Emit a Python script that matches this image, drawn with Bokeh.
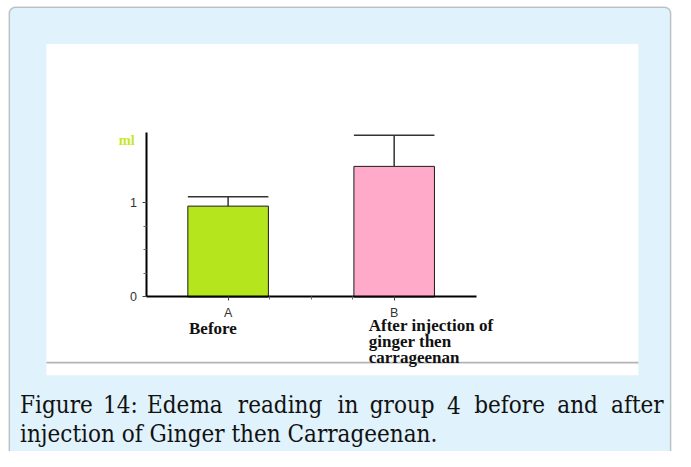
from bokeh.plotting import figure
from bokeh.models import Label, BoxAnnotation, FixedTicker, Range1d, LinearAxis
from bokeh.embed import file_html
from bokeh.resources import INLINE

# ---- data ----
categories = ["A", "B"]
cat_pos = [1, 5]
group_labels = [["Before"], ["After injection of", "ginger then", "carrageenan"]]
means = [0.96, 1.38]
errors = [0.10, 0.33]
bar_colors = ["#b5e61d", "#ffaac9"]
y_major = [0, 1]
y_minor = [0.25, 0.5, 0.75]
x_minor = [2, 3, 4]
y_unit = "ml"
caption_line1 = ["Figure", "14:", "Edema", "reading", "in", "group", "4", "before", "and", "after"]
caption_line2 = "injection of Ginger then Carrageenan."

BAR_W = 1.94
CAP_FONT = "DejaVu Serif Condensed"

# reference-pixel -> data helpers (for decorative placement only)
def X(px):
    return 1 + (px - 233) / 42.5

def Y(py):
    return (307 - py) / 98

REF_W, REF_H = 691, 467
W, H = 675, 451
p = figure(width=W, height=H, output_backend="svg", toolbar_location=None,
           x_range=Range1d(X(0), X(REF_W)), y_range=Range1d(Y(REF_H), Y(0)),
           x_axis_type=None, y_axis_type=None,
           min_border_left=0, min_border_right=0, min_border_top=0, min_border_bottom=0)
p.border_fill_color = "white"
p.background_fill_color = "white"
p.outline_line_color = None
p.grid.visible = False

# outer panel
p.add_layout(BoxAnnotation(left=X(9), right=X(686), top=Y(7), bottom=Y(540),
                           fill_color="#e0f2fb", fill_alpha=1.0,
                           line_color="#4a4a4a", line_width=1.5, border_radius=6,
                           level="underlay"))
# inner white area
p.add_layout(BoxAnnotation(left=X(47), right=X(653), top=Y(45), bottom=Y(388),
                           fill_color="white", fill_alpha=1.0, line_color=None,
                           level="underlay"))
# grey rule
p.add_layout(BoxAnnotation(left=X(47), right=X(653), top=Y(374), bottom=Y(376),
                           fill_color="#b4b4b4", fill_alpha=1.0, line_color=None,
                           level="underlay"))

# bars
p.vbar(x=cat_pos, top=means, bottom=0, width=BAR_W, fill_color=bar_colors,
       line_color="#1a1a1a", line_width=1)

# error bars (upper only)
tops = [m + e for m, e in zip(means, errors)]
p.segment(x0=cat_pos, y0=means, x1=cat_pos, y1=tops, line_color="#333333", line_width=1.5)
p.segment(x0=[c - BAR_W / 2 for c in cat_pos], y0=tops,
          x1=[c + BAR_W / 2 for c in cat_pos], y1=tops,
          line_color="#333333", line_width=1.5)

# axes placed at fixed locations inside the frame
xaxis = LinearAxis(fixed_location=0, bounds=(X(149), X(487)),
                   ticker=FixedTicker(ticks=cat_pos, minor_ticks=x_minor))
xaxis.major_label_overrides = {c: l for c, l in zip(cat_pos, categories)}
yaxis = LinearAxis(fixed_location=X(149), bounds=(0, Y(137)),
                   ticker=FixedTicker(ticks=y_major, minor_ticks=y_minor))
for ax in (xaxis, yaxis):
    ax.axis_line_width = 2
    ax.axis_line_color = "black"
    ax.major_tick_in = 0
    ax.major_tick_out = 4
    ax.minor_tick_in = 0
    ax.minor_tick_out = 3
    ax.major_tick_line_color = "#444444"
    ax.minor_tick_line_color = "#666666"
    ax.major_label_text_font = "Liberation Sans"
    ax.major_label_text_font_size = "12.5px"
    ax.major_label_text_color = "#333333"
    ax.major_label_standoff = 5
p.add_layout(xaxis, "below")
p.add_layout(yaxis, "left")

# unit label
p.add_layout(Label(x=X(121), y=Y(144), text=y_unit, text_font="Liberation Serif",
                   text_font_style="bold", text_font_size="14.5px",
                   text_color="#c6e62a", text_baseline="middle"))

# group labels
grp_left = [193, 377]
grp_mid = [340, 337]
for lines, lx, by in zip(group_labels, grp_left, grp_mid):
    for i, t in enumerate(lines):
        p.add_layout(Label(x=X(lx), y=Y(by + 16.5 * i), text=t, text_font="Liberation Serif",
                           text_font_style="bold", text_font_size="17px",
                           text_color="#111111", text_baseline="middle"))

# caption (line 1 justified word by word)
word_x = [20, 105, 150, 243, 345, 378, 457, 485, 570, 625]
for w, wx in zip(caption_line1, word_x):
    p.add_layout(Label(x=X(wx), y=Y(419), text=w, text_font=CAP_FONT,
                       text_font_size="24px", text_color="#111111",
                       text_baseline="middle"))
p.add_layout(Label(x=X(20), y=Y(449), text=caption_line2, text_font=CAP_FONT,
                   text_font_size="24px", text_color="#111111",
                   text_baseline="middle"))

open("out.html", "w").write(file_html(p, INLINE))
